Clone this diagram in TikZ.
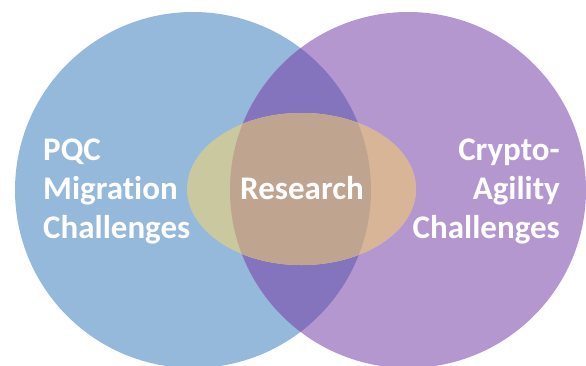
\documentclass[tikz,border=0pt]{standalone}
\usepackage{fontspec}
\setmainfont[Ligatures={TeX,NoCommon}]{Carlito}
\definecolor{blueC}{HTML}{95B9DA}
\definecolor{purpleC}{HTML}{B597CF}
\definecolor{lensC}{HTML}{8474BE}
\definecolor{ellBlue}{HTML}{C9C89F}
\definecolor{ellPurple}{HTML}{D9B598}
\definecolor{ellCenter}{HTML}{BFA590}
\tikzset{
  lbl/.style={text=white, font=\bfseries\fontsize{33}{39}\selectfont, inner sep=0pt}
}
\begin{document}
\begin{tikzpicture}[x=1pt,y=-1pt]
\useasboundingbox (0,0) rectangle (586,365);
\coordinate (cl) at (193,190);
\coordinate (cr) at (408,190);
\coordinate (ce) at (301.5,189);
\fill[blueC] (cl) circle[radius=178];
\fill[purpleC] (cr) circle[radius=178];
\begin{scope}
  \clip (cl) circle[radius=178];
  \fill[lensC] (cr) circle[radius=178];
\end{scope}
\fill[ellBlue] (ce) ellipse[x radius=114.5, y radius=76];
\begin{scope}
  \clip (cr) circle[radius=178];
  \fill[ellPurple] (ce) ellipse[x radius=114.5, y radius=76];
  \clip (cl) circle[radius=178];
  \fill[ellCenter] (ce) ellipse[x radius=114.5, y radius=76];
\end{scope}
\node[lbl, anchor=base west, align=left] (pqc) at (43,238) {PQC\\Migration\\Challenges};
\node[lbl, anchor=base east, align=right] (ca) at (560,238) {Crypto-\\Agility\\Challenges};
\node[lbl, anchor=base] (res) at (302,199) {Research};
\end{tikzpicture}
\end{document}
